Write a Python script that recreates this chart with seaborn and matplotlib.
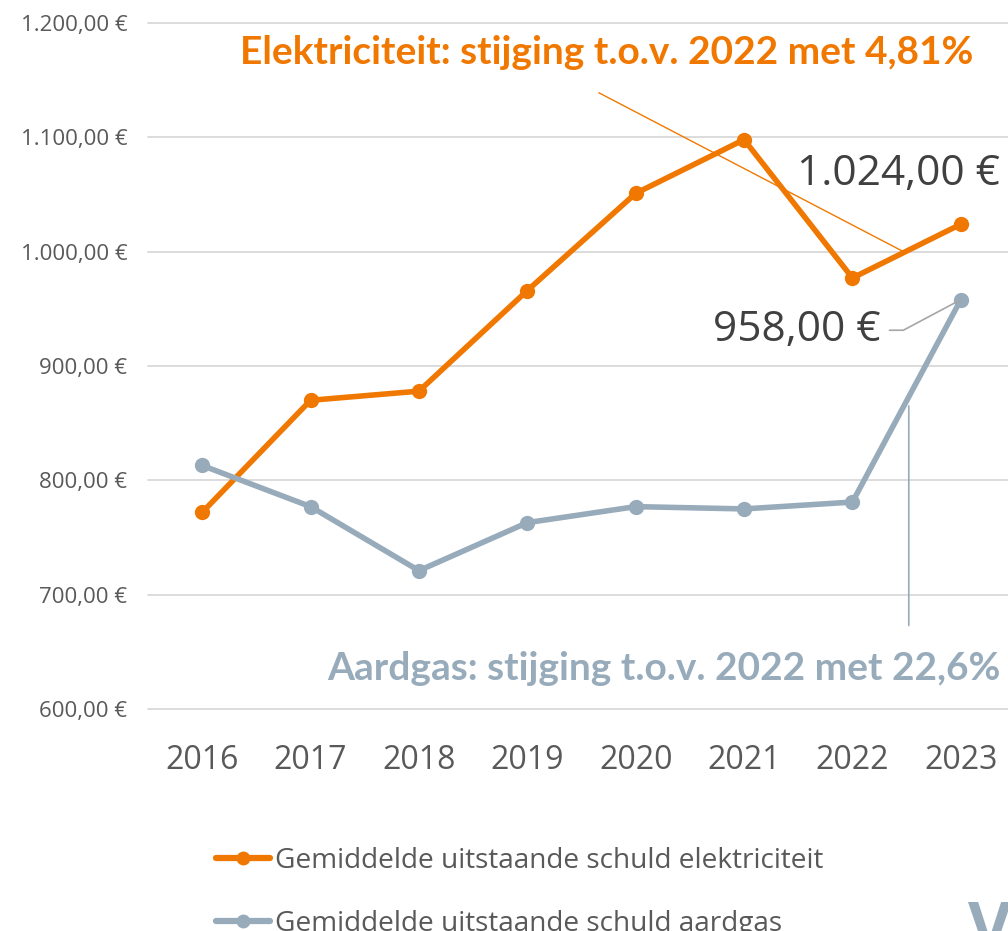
import numpy as np
import pandas as pd
import seaborn as sns
import matplotlib.pyplot as plt
from matplotlib.lines import Line2D

# data
years = ['2016', '2017', '2018', '2019', '2020', '2021', '2022', '2023']
elektriciteit = [772, 870, 878, 966, 1051, 1098, 977, 1024]
aardgas = [813, 777, 721, 763, 777, 775, 781, 958]
series_names = ['Gemiddelde uitstaande schuld elektriciteit',
                'Gemiddelde uitstaande schuld aardgas']
y_ticks = [600, 700, 800, 900, 1000, 1100, 1200]
title_elek = 'Elektriciteit: stijging t.o.v. 2022 met 4,81%'
title_gas = 'Aardgas: stijging t.o.v. 2022 met 22,6%'

ORANGE = '#F07800'
GREY_BLUE = '#97ABBB'
TEXT = '#595959'
LABEL = '#404040'


def euro(v):
    # 1024 -> '1.024,00 €'
    s = f'{v:,.2f}'.replace(',', 'X').replace('.', ',').replace('X', '.')
    return s + ' €'


df = pd.DataFrame({
    'idx': list(range(len(years))) * 2,
    'schuld': elektriciteit + aardgas,
    'reeks': [series_names[0]] * len(years) + [series_names[1]] * len(years),
})

sns.set_theme(style='white')
plt.rcParams['font.family'] = ['Open Sans', 'DejaVu Sans']

fig = plt.figure(figsize=(10.08, 9.31), dpi=100)
ax = fig.add_axes([148 / 1008, 1 - 709 / 931, 867 / 1008, 686 / 931])

sns.lineplot(data=df, x='idx', y='schuld', hue='reeks',
             palette=[ORANGE, GREY_BLUE], marker='o', markersize=11,
             markeredgewidth=0, linewidth=4, legend=False, ax=ax,
             zorder=3)

ax.set_xlim(-0.5, len(years) - 0.5)
ax.set_ylim(y_ticks[0], y_ticks[-1])
ax.set_xticks(range(len(years)))
ax.set_xticklabels(years, fontsize=23, color=TEXT)
ax.set_yticks(y_ticks)
ax.set_yticklabels([euro(v) for v in y_ticks], fontsize=16, color=TEXT)
ax.tick_params(axis='y', length=0, pad=15)
ax.tick_params(axis='x', length=0, pad=25)
ax.set_xlabel('')
ax.set_ylabel('')
ax.grid(axis='y', color='#D9D9D9', lw=1.3)
for gl in ax.get_ygridlines():
    gl.set_clip_on(False)
sns.despine(ax=ax, left=True, bottom=True)

# data labels for the last year
ax.annotate(euro(elektriciteit[-1]), xy=(7, elektriciteit[-1]),
            xytext=(-45, 36), textcoords='offset points',
            ha='center', va='center', fontsize=30.5, color=LABEL)
ax.annotate(euro(aardgas[-1]), xy=(7, aardgas[-1]),
            xytext=(-118, -22), textcoords='offset points',
            ha='center', va='center', fontsize=30.5, color=LABEL,
            arrowprops=dict(arrowstyle='-', color='#A6A6A6', lw=1.2,
                            shrinkA=4, shrinkB=0,
                            connectionstyle='angle,angleA=0,angleB=28,rad=0'))

# leader lines for the headline texts
x_e = 6.48
ax.annotate('', xy=(x_e, np.interp(x_e, [6, 7], elektriciteit[-2:])),
            xytext=(3.66, 1139),
            arrowprops=dict(arrowstyle='-', color=ORANGE, lw=1,
                            shrinkA=0, shrinkB=0))
x_g = 6.52
ax.annotate('', xy=(x_g, np.interp(x_g, [6, 7], aardgas[-2:]) - 8),
            xytext=(x_g, 673),
            arrowprops=dict(arrowstyle='-', color=GREY_BLUE, lw=1.2,
                            shrinkA=0, shrinkB=0))

fig.text(607 / 1008, 1 - 52 / 931, title_elek, ha='center', va='center',
         fontsize=28, fontweight='bold', color=ORANGE, family='Lato')
fig.text(664 / 1008, 1 - 668 / 931, title_gas, ha='center', va='center',
         fontsize=28, fontweight='bold', color=GREY_BLUE, family='Lato')

handles = [Line2D([], [], color=c, lw=4.5, marker='o', ms=10, mew=0)
           for c in [ORANGE, GREY_BLUE]]
fig.legend(handles, series_names, loc='upper left',
           bbox_to_anchor=(216 / 1008, 1 - 847 / 931), frameon=False,
           labelcolor=TEXT, prop={'family': 'Open Sans', 'size': 20.2},
           handlelength=1.93, handletextpad=0.17, labelspacing=1.23,
           borderpad=0, borderaxespad=0)

# partially visible logo in the corner
fig.text(968 / 1008, 1 - 898 / 931, 'V', ha='left', va='top',
         fontsize=48, fontweight='bold', color=GREY_BLUE, family='Open Sans')

fig.savefig('out.png', dpi=100)
